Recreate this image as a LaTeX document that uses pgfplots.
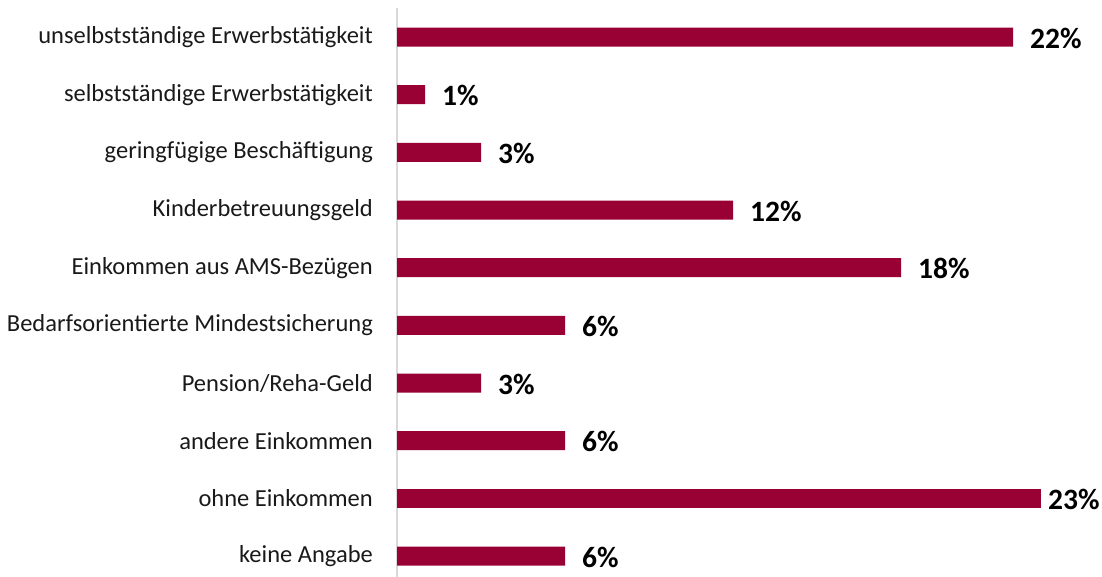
\documentclass[border=0pt]{standalone}
\usepackage{fontspec}
\setmainfont{Carlito}
\usepackage{pgfplots}
\pgfplotsset{compat=1.18}
\definecolor{barred}{HTML}{990033}
\definecolor{axgray}{HTML}{D9D9D9}
\begin{document}
\begin{tikzpicture}[x=1pt,y=1pt]
\begin{axis}[
  name=ax,
  at={(397pt,-8.2pt)}, anchor=north west,
  scale only axis,
  width=700pt, height=576.7pt,
  xmin=0, xmax=25,
  ymin=-0.5, ymax=9.5,
  y dir=reverse,
  hide x axis,
  axis y line*=left,
  y axis line style={draw=axgray, line width=1.5pt, -},
  ytick={0,...,9},
  yticklabels={unselbstständige Erwerbstätigkeit, selbstständige Erwerbstätigkeit, geringfügige Beschäftigung, Kinderbetreuungsgeld, Einkommen aus AMS-Bezügen, Bedarfsorientierte Mindestsicherung, Pension/Reha-Geld, andere Einkommen, ohne Einkommen, keine Angabe},
  major tick length=0pt,
  yticklabel style={font=\fontsize{24.5}{28}\selectfont, anchor=east, inner sep=0pt, xshift=-24pt, text=black!90},
  xbar, bar width=19pt, bar shift=0pt,
  point meta=explicit symbolic,
  nodes near coords,
  every node near coord/.append style={font=\fontsize{29.5}{34}\selectfont\bfseries, anchor=west, inner sep=0pt, xshift=17pt, yshift=-1pt, text=black},
  clip=false,
]
\addplot[fill=barred, draw=none] coordinates {
  (22,0) [22\%]
  (1,1) [1\%]
  (3,2) [3\%]
  (12,3) [12\%]
  (18,4) [18\%]
  (6,5) [6\%]
  (3,6) [3\%]
  (6,7) [6\%]
  (6,9) [6\%]
};
\addplot[fill=barred, draw=none, every node near coord/.append style={xshift=-10pt}] coordinates {
  (23,8) [23\%]
};
\end{axis}
\pgfresetboundingbox
\path[use as bounding box] (0,0) rectangle (1102,-577);
\end{tikzpicture}
\end{document}
